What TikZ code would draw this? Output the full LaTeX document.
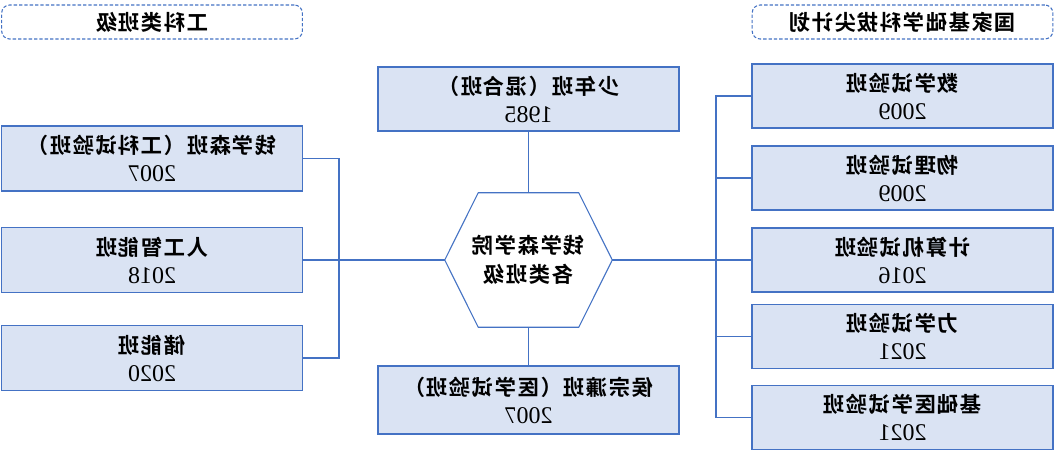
\documentclass[tikz,border=0pt]{standalone}
\usepackage{fontspec}
\usepackage{graphicx}
\setmainfont{Liberation Serif}
\newfontfamily\cjk{Noto Sans CJK SC}[BoldFont={* Bold},LetterSpace=7]
\usetikzlibrary{calc}
\definecolor{boxline}{HTML}{4472C4}
\definecolor{boxfill}{HTML}{DAE3F3}
\newcommand{\flipcn}[1]{\reflectbox{\cjk\bfseries\fontsize{16}{21}\selectfont #1}}
\newcommand{\flipyr}[1]{\reflectbox{\fontsize{18}{21}\selectfont #1}}
\tikzset{
    classbox/.style={draw=boxline,fill=boxfill,line width=1.1pt,
        minimum width=226pt,minimum height=49pt,inner sep=0pt,align=center,
        font=\fontsize{16}{21}\selectfont},
    groupbox/.style={draw=boxline,line width=0.8pt,dash pattern=on 2.5pt off 1.5pt,
        rounded corners=6pt,minimum width=225.5pt,minimum height=25.5pt,inner sep=0pt},
    link/.style={draw=boxline,line width=0.8pt}
}
\begin{document}
\begin{tikzpicture}[x=0.75pt,y=-0.75pt]
            \useasboundingbox[fill=white] (0,0) rectangle (1056,463);
            \def\lx{152}
            \def\rx{902.5}
            \def\cx{528.5}
            \node[groupbox] (kind) at (\lx,22) {\flipcn{工科类班级}};
            \node[groupbox] (plan) at (\rx,22) {\flipcn{国家基础学科拔尖计划}};
            \node[minimum width=125.25pt,minimum height=100.5pt,inner sep=0pt,align=center,
                font=\fontsize{16}{21.5}\selectfont]
                (hex) at (\cx,260) {\flipcn{钱学森学院}\\\flipcn{各类班级}};
            \draw[link] (hex.west)
                -- ($(hex.north west)!0.2!(hex.north east)$)
                -- ($(hex.north west)!0.8!(hex.north east)$)
                -- (hex.east)
                -- ($(hex.south west)!0.8!(hex.south east)$)
                -- ($(hex.south west)!0.2!(hex.south east)$)
                -- cycle;
            \node[classbox,minimum height=48pt] (youth) at (\cx,99)
                {\flipcn{少年班（混合班）}\\\flipyr{1985}};
            \node[classbox,minimum height=51pt] (med) at (\cx,400)
                {\flipcn{侯宗濂班（医学试验班）}\\\flipyr{2007}};
            \node[classbox] (qian) at (\lx,158.5)
                {\flipcn{钱学森班（工科试验班）}\\\flipyr{2007}};
            \node[classbox] (ai) at (\lx,260)
                {\flipcn{人工智能班}\\\flipyr{2018}};
            \node[classbox] (energy) at (\lx,358)
                {\flipcn{储能班}\\\flipyr{2020}};
            \foreach \n/\y/\t/\d in {math/96/数学试验班/2009,
                                     phys/178/物理试验班/2009,
                                     comp/260/计算机试验班/2016,
                                     mech/336.5/力学试验班/2021,
                                     bmed/417.5/基础医学试验班/2021}
                {\node[classbox,minimum height=48pt] (\n) at (\rx,\y)
                    {\flipcn{\t}\\\flipyr{\d}};}
            \coordinate (lj) at (339,260);
            \coordinate (rj) at (716,260);
            \draw[link] (youth.south) -- (hex.north);
            \draw[link] (med.north) -- (hex.south);
            \draw[link] (qian.east) -| (lj) |- (energy.east);
            \draw[link] (ai.east) -- (hex.west);
            \draw[link] (math.west) -| (rj) |- (bmed.west);
            \draw[link] (hex.east) -- (comp.west);
            \foreach \n in {phys,mech}
                {\draw[link] (\n.west) -- (\n.west -| rj);}
\end{tikzpicture}
\end{document}
